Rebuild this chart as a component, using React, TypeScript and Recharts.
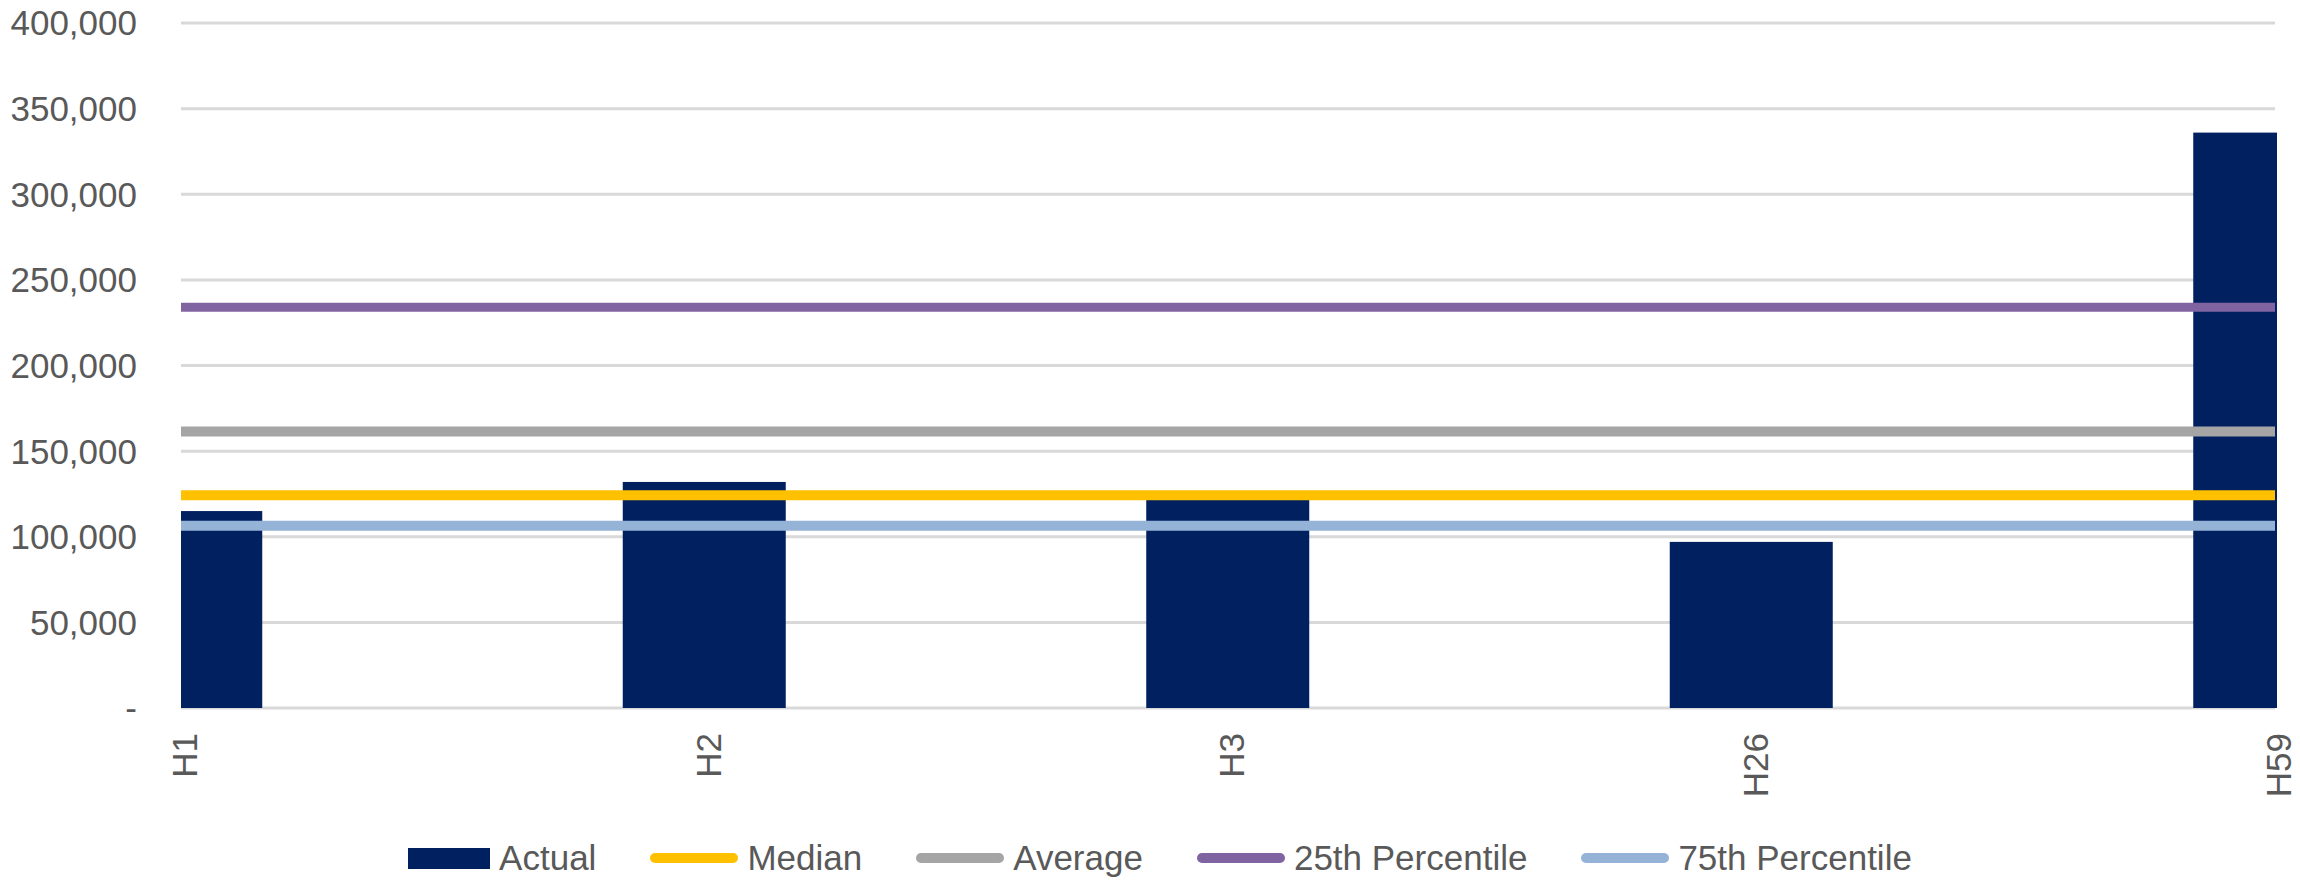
import { ComposedChart, Bar, Line, XAxis, YAxis, CartesianGrid, Legend } from 'recharts';

const categories = ['H1', 'H2', 'H3', 'H26', 'H59'];
const actual = [115000, 132000, 121500, 97000, 336000];
const median = [124300, 124300, 124300, 124300, 124300];
const average = [161400, 161400, 161400, 161400, 161400];
const pct25 = [234000, 234000, 234000, 234000, 234000];
const pct75 = [106400, 106400, 106400, 106400, 106400];
const yTicks = [0, 50000, 100000, 150000, 200000, 250000, 300000, 350000, 400000];

const data = categories.map((name, i) => ({
  name,
  actual: actual[i],
  median: median[i],
  average: average[i],
  pct25: pct25[i],
  pct75: pct75[i],
}));

// legend order and swatch styles
const legendItems = [
  { label: 'Actual', color: '#002060', box: true },
  { label: 'Median', color: '#ffc000', box: false },
  { label: 'Average', color: '#a5a5a5', box: false },
  { label: '25th Percentile', color: '#8064a2', box: false },
  { label: '75th Percentile', color: '#95b3d7', box: false },
];

const W = 2300;
const H = 880;
const FONT = '"Liberation Sans", Arial, sans-serif';
const TEXT = '#595959';

// plot spans 181..2275; first/last categories sit on the plot edges
const PLOT_LEFT = 181;
const PLOT_RIGHT = 2275;
const step = (PLOT_RIGHT - PLOT_LEFT) / (categories.length - 1);
const edgePad = -step / 2;

function fmtTick(v: number) {
  return v === 0 ? '-' : v.toLocaleString('en-US');
}

// edge bars are cut off at the plot bounds
// eslint-disable-next-line @typescript-eslint/no-explicit-any
function ClippedBar({ x, y, width, height, fill }: any) {
  const l = Math.max(x, PLOT_LEFT);
  const r = Math.min(x + width, PLOT_RIGHT + 2);
  if (r <= l || height <= 0) return null;
  return <rect x={l} y={y} width={r - l} height={height} fill={fill} />;
}

// eslint-disable-next-line @typescript-eslint/no-explicit-any
function CategoryTick({ x, y, payload }: any) {
  return (
    <text
      x={x} y={y} dy={16}
      transform={`rotate(-90, ${x}, ${y})`}
      textAnchor="end" fill={TEXT} fontSize={35} fontFamily={FONT}
    >
      {payload.value}
    </text>
  );
}

function LegendRow() {
  return (
    <div style={{ display: 'flex', justifyContent: 'center', alignItems: 'center', height: 44, fontFamily: FONT, fontSize: 35, color: TEXT }}>
      {legendItems.map((it, i) => (
        <div key={it.label} style={{ display: 'flex', alignItems: 'center', marginLeft: i === 0 ? 0 : 54 }}>
          {it.box ? (
            <div style={{ width: 82, height: 21, background: it.color }} />
          ) : (
            <div style={{ width: 88, height: 10, borderRadius: 5, background: it.color }} />
          )}
          <span style={{ marginLeft: 9, lineHeight: '44px' }}>{it.label}</span>
        </div>
      ))}
    </div>
  );
}

export default function App() {
  return (
    <div style={{ position: 'absolute', left: 0, top: 0, width: W, height: H, background: '#fff' }}>
      <ComposedChart width={W} height={H} data={data} margin={{ top: 23, right: W - PLOT_RIGHT, bottom: 0, left: 0 }}>
        <CartesianGrid vertical={false} stroke="#d9d9d9" strokeWidth={3} />
        <XAxis
          dataKey="name" height={172} interval={0}
          padding={{ left: edgePad, right: edgePad }}
          axisLine={false} tickLine={false} tickSize={0} tickMargin={25}
          tick={<CategoryTick />}
        />
        <YAxis
          width={PLOT_LEFT} domain={[0, 400000]} ticks={yTicks} interval={0}
          axisLine={false} tickLine={false} tickSize={0} tickMargin={44}
          tickFormatter={fmtTick}
          tick={{ fill: TEXT, fontSize: 35, fontFamily: FONT }}
        />
        <Legend
          layout="horizontal" verticalAlign="middle" align="center"
          wrapperStyle={{ top: 836, left: 0, width: W + 20 }}
          content={<LegendRow />}
        />
        <Bar dataKey="actual" name="Actual" fill="#002060" barSize={163} shape={<ClippedBar />} isAnimationActive={false} />
        <Line dataKey="median" name="Median" stroke="#ffc000" strokeWidth={10} dot={false} activeDot={false} isAnimationActive={false} />
        <Line dataKey="average" name="Average" stroke="#a5a5a5" strokeWidth={10} dot={false} activeDot={false} isAnimationActive={false} />
        <Line dataKey="pct25" name="25th Percentile" stroke="#8064a2" strokeWidth={9} dot={false} activeDot={false} isAnimationActive={false} />
        <Line dataKey="pct75" name="75th Percentile" stroke="#95b3d7" strokeWidth={10} dot={false} activeDot={false} isAnimationActive={false} />
      </ComposedChart>
    </div>
  );
}
